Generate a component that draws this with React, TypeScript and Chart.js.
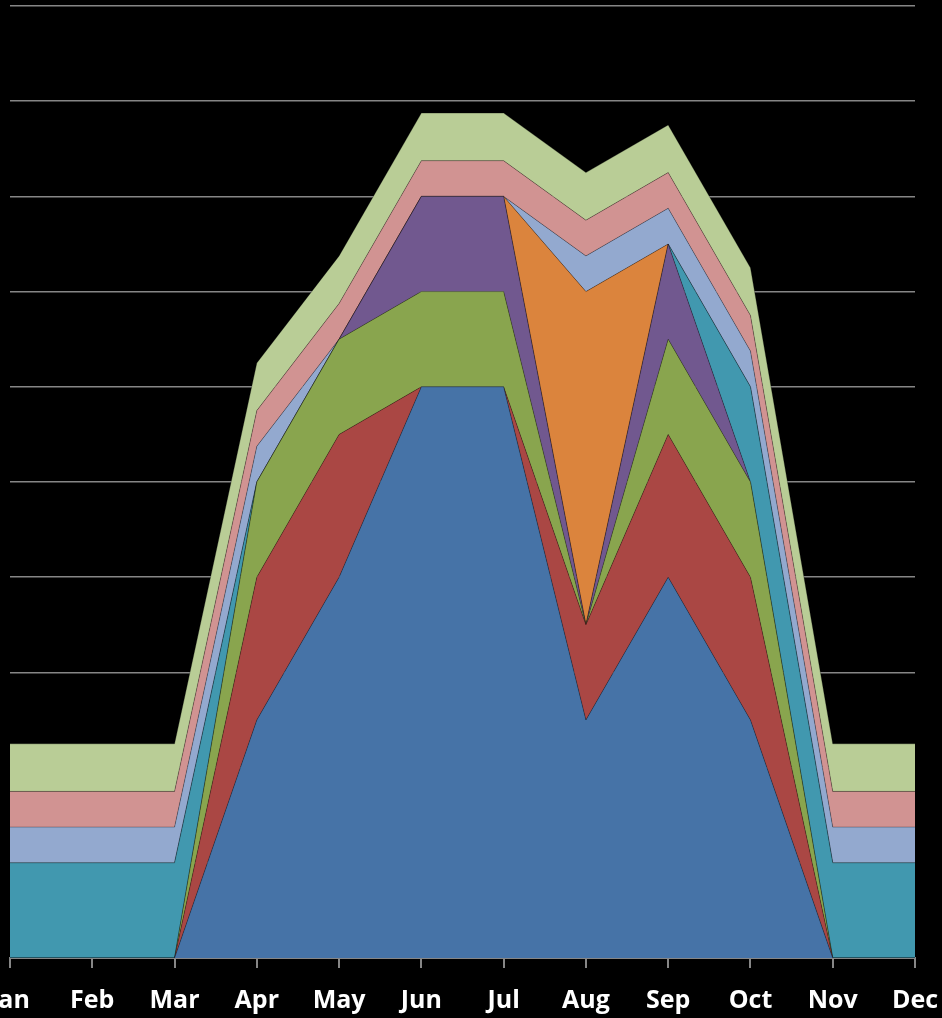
import React, { useEffect, useRef } from "react";
import { Chart, registerables } from "chart.js";

Chart.register(...registerables);

const months = ["Jan", "Feb", "Mar", "Apr", "May", "Jun", "Jul", "Aug", "Sep", "Oct", "Nov", "Dec"];

const blueValues = [0, 0, 0, 20, 32, 48, 48, 20, 32, 20, 0, 0];
const redValues = [0, 0, 0, 12, 12, 0, 0, 8, 12, 12, 0, 0];
const greenValues = [0, 0, 0, 8, 8, 8, 8, 0, 8, 8, 0, 0];
const purpleValues = [0, 0, 0, 0, 0, 8, 8, 0, 8, 0, 0, 0];
const tealValues = [8, 8, 8, 0, 0, 0, 0, 0, 0, 8, 8, 8];
const orangeValues = [0, 0, 0, 0, 0, 0, 0, 28, 0, 0, 0, 0];
const lightBlueValues = [3, 3, 3, 3, 0, 0, 0, 3, 3, 3, 3, 3];
const pinkValues = [3, 3, 3, 3, 3, 3, 3, 3, 3, 3, 3, 3];
const lightGreenValues = [4, 4, 4, 4, 4, 4, 4, 4, 4, 4, 4, 4];

const seriesNames = ["Series1", "Series2", "Series3", "Series4", "Series5", "Series6", "Series7", "Series8", "Series9"];
const seriesValues = [blueValues, redValues, greenValues, purpleValues, tealValues, orangeValues, lightBlueValues, pinkValues, lightGreenValues];
const seriesColors = ["#4673A7", "#AA4744", "#89A54E", "#71588F", "#4198AF", "#DB843D", "#93A9CF", "#D19392", "#B9CD96"];

const yMax = 80;
const yStep = 8;

export default function App() {
  const ref = useRef<HTMLCanvasElement>(null);

  useEffect(() => {
    document.body.style.margin = "0";
    document.body.style.background = "#000";
    const chart = new Chart(ref.current as HTMLCanvasElement, {
      type: "line",
      data: {
        labels: months,
        datasets: seriesValues.map((vals, i) => ({
          label: seriesNames[i],
          data: vals,
          backgroundColor: seriesColors[i],
          borderColor: "rgba(0,0,0,0.28)",
          borderWidth: 1,
          fill: i === 0 ? "origin" : "-1",
          pointRadius: 0,
          pointHoverRadius: 0,
          tension: 0,
        })),
      },
      options: {
        responsive: false,
        maintainAspectRatio: false,
        animation: false,
        layout: { padding: { left: 10, right: 27, top: 6, bottom: 0 } },
        plugins: {
          legend: { display: false },
          tooltip: { enabled: false },
        },
        scales: {
          x: {
            offset: false,
            grid: {
              display: true,
              drawOnChartArea: false,
              drawTicks: true,
              tickLength: 10,
              color: "#868686",
              lineWidth: 2,
            },
            border: { display: true, color: "#868686", width: 2 },
            ticks: {
              color: "#ffffff",
              font: { family: "'Open Sans'", size: 25, weight: "bold" },
              padding: 18,
              maxRotation: 0,
              minRotation: 0,
              autoSkip: false,
            },
            afterFit: (s: any) => {
              s.paddingLeft = 0;
              s.paddingRight = 0;
              s.height = 60;
            },
          } as any,
          y: {
            stacked: true,
            min: 0,
            max: yMax,
            ticks: { display: false, stepSize: yStep },
            grid: { color: "#868686", lineWidth: 1.5, drawTicks: false },
            border: { display: false },
            afterFit: (s: any) => {
              s.width = 0;
            },
          } as any,
        },
      },
    });
    return () => chart.destroy();
  }, []);

  return (
    <div style={{ width: 942, height: 1018, background: "#000", overflow: "hidden" }}>
      <canvas ref={ref} width={942} height={1018} style={{ display: "block" }} />
    </div>
  );
}
